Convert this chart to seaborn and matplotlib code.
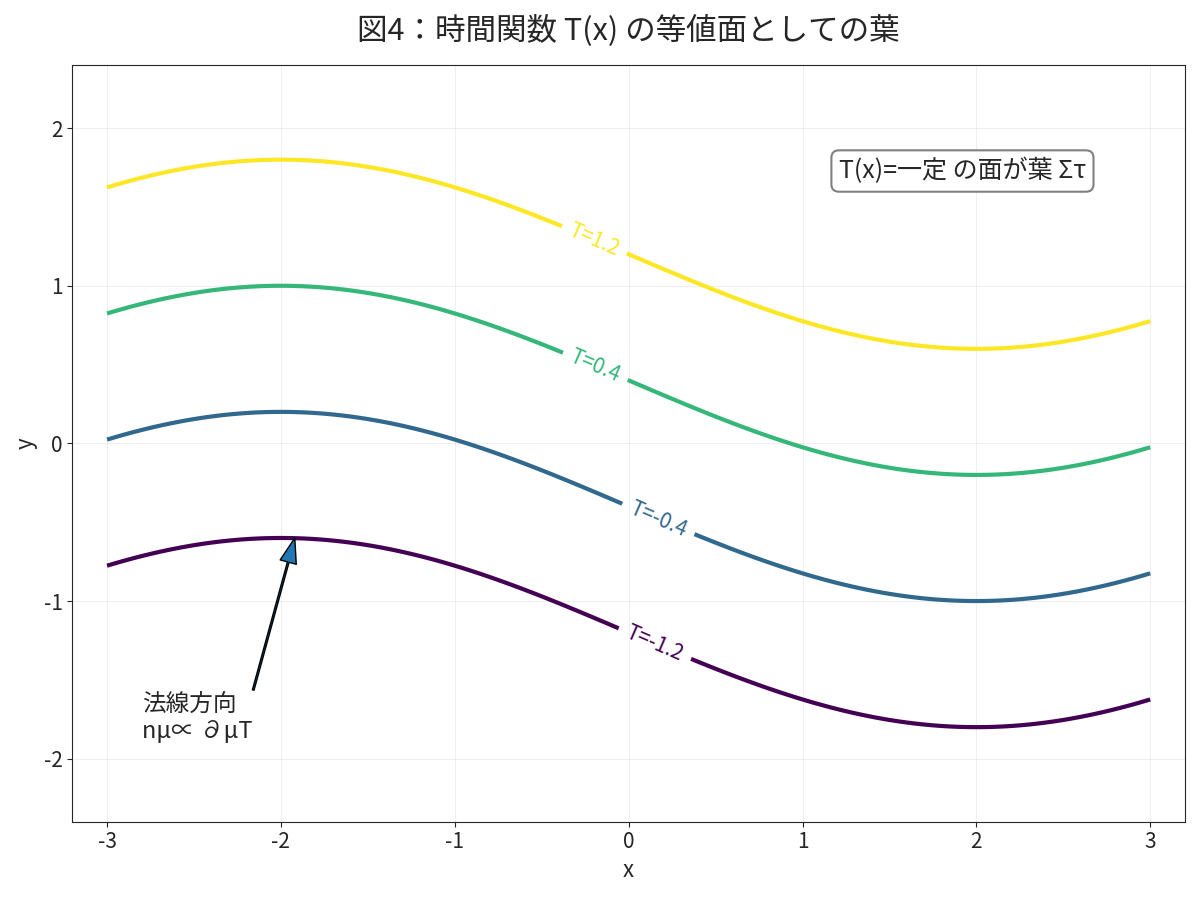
import numpy as np
import matplotlib
matplotlib.use("Agg")
import matplotlib.pyplot as plt
import seaborn as sns

sns.set_style("ticks")
plt.rcParams['font.family'] = ['Noto Sans CJK JP', 'DejaVu Sans']
plt.rcParams['axes.unicode_minus'] = False

levels = [-1.2, -0.4, 0.4, 1.2]
amp = 0.6
period = 8.0

x = np.linspace(-3, 3, 300)
y = np.linspace(-2.4, 2.4, 300)
X, Y = np.meshgrid(x, y)
T = Y - amp * np.sin(-2 * np.pi * X / period)

fig, ax = plt.subplots(figsize=(12, 8.97), dpi=100)
cs = ax.contour(X, Y, T, levels=levels, cmap="viridis", linewidths=3)
ax.clabel(cs, fmt="T=%.1f", fontsize=15, inline=True)

ax.annotate("法線方向\nnμ∝ ∂μT", xy=(-1.92, -0.6), xytext=(-2.8, -1.9),
            fontsize=17, ha="left", va="bottom",
            arrowprops=dict(facecolor="#1f77b4", edgecolor="black", width=1.2,
                            headwidth=12, headlength=18))
ax.text(0.8, 0.86, "T(x)=一定 の面が葉 Στ", transform=ax.transAxes, fontsize=18,
        ha="center", va="center",
        bbox=dict(boxstyle="round,pad=0.3", facecolor="white", edgecolor="gray", linewidth=1.5))

ax.set_xlim(-3.2, 3.2)
ax.set_ylim(-2.4, 2.4)
ax.set_xticks([-3, -2, -1, 0, 1, 2, 3])
ax.set_yticks([-2, -1, 0, 1, 2])
ax.tick_params(labelsize=15)
ax.grid(True, alpha=0.3)
ax.set_xlabel("x", fontsize=16)
ax.set_ylabel("y", fontsize=16)
ax.set_title("図4：時間関数 T(x) の等値面としての葉", fontsize=22, pad=18)
fig.tight_layout()
fig.savefig("out.png", dpi=100)
